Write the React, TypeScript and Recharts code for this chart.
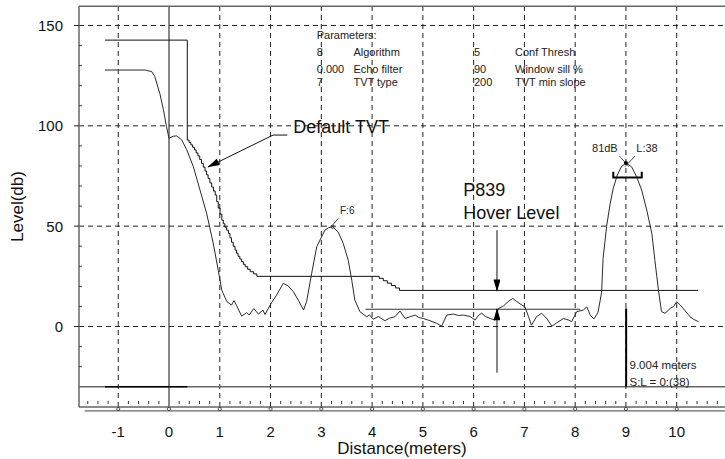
import React from 'react';
import { ComposedChart, Line, XAxis, YAxis, ReferenceLine, ReferenceDot } from 'recharts';

// ---------- data ----------
const echoDistance = [-1.26,-0.47,-0.34,-0.28,-0.18,-0.11,-0.05,0.0,0.08,0.15,0.25,0.35,0.48,0.61,0.74,0.87,0.97,1.04,1.14,1.23,1.28,1.33,1.43,1.53,1.58,1.67,1.76,1.85,1.89,2.02,2.12,2.25,2.35,2.45,2.55,2.65,2.71,2.81,2.91,3.07,3.14,3.22,3.33,3.43,3.53,3.6,3.66,3.76,3.89,3.95,4.02,4.12,4.25,4.35,4.45,4.55,4.65,4.75,4.85,4.92,5.01,5.14,5.27,5.37,5.47,5.6,5.7,5.8,5.93,6.03,6.1,6.16,6.23,6.33,6.42,6.49,6.59,6.68,6.77,6.85,6.95,7.01,7.08,7.14,7.24,7.34,7.44,7.54,7.64,7.77,7.87,7.93,8.03,8.16,8.23,8.3,8.37,8.45,8.52,8.55,8.62,8.69,8.75,8.83,8.91,9.0,9.11,9.21,9.31,9.41,9.51,9.57,9.64,9.7,9.77,9.87,9.94,10.0,10.07,10.16,10.26,10.33,10.43];
const echoLevel = [127.8,127.8,127,124.5,116,108,99.6,93.8,94.8,95,93,88,79.6,68,56.5,41.6,28,18,12.4,10.7,12.9,10.5,5.2,6.9,5.8,9,6.2,8.2,6,11.9,15.7,21.5,20.2,17.3,13,8.2,12.4,26.5,39.8,48,49.2,49.7,47.2,41.5,33,23,13.2,7.4,4.9,5.8,3.6,5,2.9,4.2,4.9,7.7,4,4.9,5.7,4.5,4,2.9,1.6,0.2,5.7,6.2,5.5,5.7,5,3.2,5.7,6.6,5,4,3.2,9,10.3,12.4,14,12.4,10.7,9.8,4.9,0.7,4.9,6.6,4,0.2,1.9,4,3.2,2.4,7.4,8.2,9.8,5.5,3.8,7,17,34,50,61.4,68.9,75.5,79.6,81.5,79.6,74.6,68,58,46.4,33,18.2,7.4,6.6,9,10,12.4,10.7,8,4.9,3.6,2.4];

const tvtDistance = [-1.26,0.36,0.395,0.43,0.465,0.50,0.535,0.57,0.605,0.64,0.675,0.71,0.74,0.77,0.805,0.84,0.875,0.91,0.94,0.97,1.005,1.04,1.07,1.10,1.135,1.17,1.20,1.23,1.265,1.30,1.33,1.36,1.395,1.43,1.465,1.50,1.55,1.60,1.665,1.73,4.14,4.22,4.30,4.38,4.46,4.54,10.42];
const tvtLevel = [142.7,92.9,91.7,90.5,89.3,88,86.5,85,83.2,81.3,79.4,77.5,75.6,73.8,71.6,69.5,67.5,65.5,62.2,59,56,53,51.2,49.5,48,46.4,44.2,42,40,38.1,36.5,35,33.6,32.3,31,29.8,28.5,27.3,26.2,25,24,22.8,21.6,20.4,19.2,18,18];

const hoverDistance = [3.87, 8.1];
const hoverLevel = [8.6, 8.6];

const floorDistance = [-1.26, 0.36];
const floorLevel = [-30, -30];

const tvtArrowDistance = [2.33, 2.05, 0.77];
const tvtArrowLevel = [95.4, 95.4, 79.5];
const hoverDownDistance = [6.46, 6.46];
const hoverDownLevel = [48, 17.8];
const hoverUpDistance = [6.46, 6.46];
const hoverUpLevel = [-23, 8.8];

const fLeaderDistance = [3.205, 3.335];
const fLeaderLevel = [50, 53.9];
const crossADistance = [8.87, 9.06];
const crossALevel = [85, 79.6];
const crossBDistance = [9.18, 8.98];
const crossBLevel = [85, 79.6];
const bracketDistance = [8.751, 8.751, 9.311, 9.311];
const bracketLevel = [77.1, 74.3, 74.3, 77.1];
const cursorDistance = [9.004, 9.004];
const cursorLevel = [9, -30];

const paramLabelCols = ['8', '0.000', '7'];
const paramLabelNames = ['Algorithm', 'Echo filter', 'TVT type'];
const paramCols2 = ['5', '90', '200'];
const paramNames2 = ['Conf Thresh', 'Window sill %', 'TVT min slope'];
const paramRowLevels = [136.6, 128.3, 121.7];
const paramColumns = [2.909, 3.632, 6.007, 6.815];

const xLabels = [-1, 0, 1, 2, 3, 4, 5, 6, 7, 8, 9, 10];
const yTicks = [-20, -10, 0, 10, 20, 30, 40, 50, 60, 70, 80, 90, 100, 110, 120, 130, 140, 150];
const gridX = [-1, 1, 2, 3, 4, 5, 6, 7, 8, 9, 10];
const gridY = [0, 50, 100, 150];

const X_DOMAIN: [number, number] = [-1.773, 10.951];
const Y_DOMAIN: [number, number] = [-40.1, 159.7];

const zip = (xs: number[], ys: number[]) => xs.map((x, i) => ({ x, y: ys[i] }));

const minorTicks: number[] = [];
for (let i = -8; i <= 54; i++) {
  if (i % 5 !== 0) minorTicks.push(Math.round(i * 2) / 10);
}
const allXTicks = [...minorTicks, ...xLabels].sort((a, b) => a - b);

const FONT = '"Liberation Sans", Arial, sans-serif';

const XTick = (props: any) => {
  const { x, y, payload } = props;
  const v = payload.value;
  const isMajor = Math.abs(v - Math.round(v)) < 1e-6;
  if (isMajor) {
    return (
      <g>
        <circle cx={x} cy={y + 2} r={1.6} fill="none" stroke="#333" strokeWidth={0.8} />
        <text x={x} y={y + 24} textAnchor="middle" dominantBaseline="central" fontSize={15} fill="#111" fontFamily={FONT}>
          {Math.round(v)}
        </text>
      </g>
    );
  }
  return <line x1={x} x2={x} y1={y - 6} y2={y - 3} stroke="#333" strokeWidth={1} />;
};

const YTick = (props: any) => {
  const { x, y, payload } = props;
  const v = payload.value;
  if (v % 50 === 0) {
    return (
      <g>
        <line x1={x - 5} x2={x} y1={y} y2={y} stroke="#222" />
        <text x={x - 16} y={y} textAnchor="end" dominantBaseline="central" fontSize={15} fill="#111" fontFamily={FONT}>
          {v}
        </text>
      </g>
    );
  }
  return <line x1={x} x2={x + 3} y1={y} y2={y} stroke="#444" />;
};

const note = (key: string, x: number, y: number, text: string, size = 11, anchor: 'start' | 'middle' | 'end' = 'start', fill = '#222') => (
  <ReferenceDot
    key={key}
    x={x}
    y={y}
    r={0}
    ifOverflow="visible"
    shape={(p: any) => (
      <text x={p.cx} y={p.cy} fontSize={size} textAnchor={anchor} dominantBaseline="central" fill={fill} fontFamily={FONT}>
        {text}
      </text>
    )}
  />
);

const thin = (key: string, xs: number[], ys: number[], opts: any = {}) => (
  <Line
    key={key}
    data={zip(xs, ys)}
    dataKey="y"
    type="linear"
    dot={false}
    activeDot={false}
    isAnimationActive={false}
    stroke="#111"
    strokeWidth={1}
    legendType="none"
    {...opts}
  />
);

export default function App() {
  return (
    <div style={{ position: 'absolute', left: 0, top: 0, background: '#fff' }}>
      <ComposedChart width={725} height={459} margin={{ top: 6, right: 0, bottom: 0, left: 0 }} style={{ fontFamily: FONT }}>
        <defs>
          <marker id="arrowHead" viewBox="0 0 14 8" refX="13" refY="4" markerWidth="14" markerHeight="7" markerUnits="userSpaceOnUse" orient="auto">
            <path d="M0,0 L14,4 L0,8 z" fill="#000" />
          </marker>
        </defs>
        <XAxis
          type="number"
          dataKey="x"
          domain={X_DOMAIN}
          allowDataOverflow
          ticks={allXTicks}
          interval={0}
          tickSize={0}
          tickMargin={0}
          tickLine={false}
          tick={XTick}
          axisLine={{ stroke: '#666', strokeWidth: 1.5 }}
          height={52}
          label={{ value: 'Distance(meters)', position: 'insideBottom', offset: 5, fontSize: 17, fill: '#111' }}
        />
        <YAxis
          type="number"
          domain={Y_DOMAIN}
          allowDataOverflow
          ticks={yTicks}
          interval={0}
          tickSize={0}
          tickMargin={0}
          tickLine={false}
          tick={YTick}
          width={79}
          axisLine={{ stroke: '#666', strokeWidth: 1.5 }}
          label={{
            content: (p: any) => {
              const vb = p.viewBox || { x: 0, y: 6, width: 79, height: 401 };
              const cx = vb.x + 17;
              const cy = vb.y + vb.height / 2;
              return (
                <text x={cx} y={cy} transform={`rotate(-90 ${cx} ${cy})`} textAnchor="middle" dominantBaseline="central" fontSize={17} fill="#111" fontFamily={FONT}>
                  Level(db)
                </text>
              );
            },
          }}
        />

        {gridY.map((v) => (
          <ReferenceLine key={`gy${v}`} y={v} stroke="#222" strokeWidth={1} strokeDasharray="5 4" />
        ))}
        {gridX.map((v) => (
          <ReferenceLine key={`gx${v}`} x={v} stroke="#222" strokeWidth={1} strokeDasharray="5 4" />
        ))}
        <ReferenceLine x={0} stroke="#111" strokeWidth={1} />
        <ReferenceLine y={159.6} stroke="#666" strokeWidth={1.5} />
        <ReferenceLine y={-30} stroke="#666" strokeWidth={1.5} />
        <ReferenceLine
          ifOverflow="visible"
          segment={[{ x: -1.66, y: -42 }, { x: 10.95, y: -42 }]}
          stroke="#666"
          strokeWidth={1.2}
        />

        {thin('floor', floorDistance, floorLevel, { stroke: '#000', strokeWidth: 1.5 })}
        {thin('tvt', tvtDistance, tvtLevel, { type: 'stepAfter', stroke: '#111' })}
        {thin('hover', hoverDistance, hoverLevel, { stroke: '#333' })}
        {thin('echo', echoDistance, echoLevel, { stroke: '#2a2a2a' })}

        {thin('tvtArrow', tvtArrowDistance, tvtArrowLevel, { markerEnd: 'url(#arrowHead)' })}
        {thin('hDown', hoverDownDistance, hoverDownLevel, { markerEnd: 'url(#arrowHead)' })}
        {thin('hUp', hoverUpDistance, hoverUpLevel, { markerEnd: 'url(#arrowHead)' })}
        {thin('fLead', fLeaderDistance, fLeaderLevel, { stroke: '#555' })}
        {thin('crossA', crossADistance, crossALevel, { stroke: '#555' })}
        {thin('crossB', crossBDistance, crossBLevel, { stroke: '#555' })}
        {thin('bracket', bracketDistance, bracketLevel, { stroke: '#000', strokeWidth: 2 })}
        {thin('cursor', cursorDistance, cursorLevel, { stroke: '#000', strokeWidth: 2 })}

        <ReferenceDot x={9.0} y={81.5} r={2} fill="#000" stroke="none" />
        <ReferenceDot x={3.22} y={49.7} r={1.5} fill="none" stroke="#333" />

        {note('ptitle', paramColumns[0], 145.2, 'Parameters:')}
        {paramRowLevels.map((lv, i) => [
          note(`pc${i}`, paramColumns[0], lv, paramLabelCols[i]),
          note(`pn${i}`, paramColumns[1], lv, paramLabelNames[i]),
          note(`pc2${i}`, paramColumns[2], lv, paramCols2[i]),
          note(`pn2${i}`, paramColumns[3], lv, paramNames2[i]),
        ])}
        {note('dtvt', 2.448, 99.6, 'Default TVT', 18, 'start', '#111')}
        {note('p839', 5.797, 68, 'P839', 18, 'start', '#111')}
        {note('hover', 5.797, 56.5, 'Hover Level', 18, 'start', '#111')}
        {note('f6', 3.368, 57.9, 'F:6', 10)}
        {note('db', 8.585, 88.8, '81dB', 11, 'middle')}
        {note('l38', 9.415, 88.8, 'L:38', 11, 'middle')}
        {note('m', 9.07, -19.2, '9.004 meters', 11.5)}
        {note('sl', 9.07, -27.5, 'S:L = 0:(38)', 11.5)}
      </ComposedChart>
    </div>
  );
}
